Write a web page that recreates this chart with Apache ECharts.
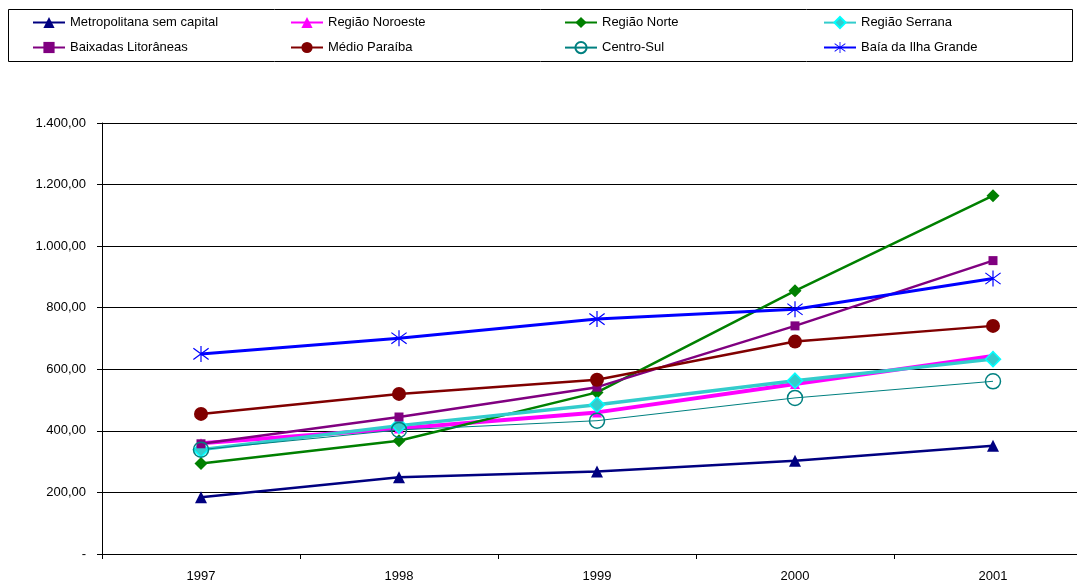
<!DOCTYPE html>
<html>
<head>
<meta charset="utf-8">
<script src="https://cdn.jsdelivr.net/npm/echarts@6/dist/echarts.min.js"></script>
<style>html,body{margin:0;padding:0;background:#fff}#c{width:1077px;height:583px}</style>
</head>
<body>
<div id="c"></div>
<script>
const years = ['1997','1998','1999','2000','2001'];
const yTicks = [0,200,400,600,800,1000,1200,1400];
const metropolitana = [184, 249, 268, 303, 352];
const noroeste = [360, 408, 460, 552, 643];
const norte = [294, 368, 525, 855, 1164];
const serrana = [339, 417, 485, 563, 633];
const baixadas = [358, 445, 542, 741, 953];
const medio = [455, 520, 566, 690, 741];
const centroSul = [339, 403, 433, 507, 561];
const baia = [650, 701, 763, 795, 895];

const star = 'path://M9.3 0 L10.7 0 L10.7 20 L9.3 20 Z M1.43 2.45 L19.43 16.45 L18.57 17.55 L0.57 3.55 Z M0.57 16.45 L18.57 2.45 L19.43 3.55 L1.43 17.55 Z';

const seriesDefs = [
  {name:'Metropolitana sem capital', data:metropolitana, color:'#000080', width:2.5, symbol:'triangle', size:12},
  {name:'Região Noroeste', data:noroeste, color:'#FF00FF', width:4, symbol:'triangle', size:10},
  {name:'Região Norte', data:norte, color:'#008000', width:2.5, symbol:'diamond', size:13},
  {name:'Região Serrana', data:serrana, color:'#33CCCC', width:3.5, symbol:'diamond', size:15, border:'#00FFFF'},
  {name:'Baixadas Litorâneas', data:baixadas, color:'#800080', width:2.5, symbol:'rect', size:9},
  {name:'Médio Paraíba', data:medio, color:'#800000', width:2.5, symbol:'circle', size:14},
  {name:'Centro-Sul', data:centroSul, color:'#008080', width:1, symbol:'circle', size:15, hollow:true},
  {name:'Baía da Ilha Grande', data:baia, color:'#0000FF', width:3, symbol:star, size:16}
];

function fmt(v){
  if (v === 0) return '-';
  const s = String(Math.round(v));
  const withDots = s.replace(/\B(?=(\d{3})+(?!\d))/g, '.');
  return withDots + ',00';
}

const legendPos = [[32,16],[290,16],[564,16],[823,16],[32,41],[290,41],[564,41],[823,41]];
const legends = seriesDefs.map((s,i)=>({
  data:[s.name], left:legendPos[i][0], top:legendPos[i][1], padding:0,
  itemWidth:32, itemHeight:14, selectedMode:false,
  textStyle:{fontFamily:'Liberation Sans', fontSize:13, color:'#000', padding:[0,0,0,0]}
}));

const chart = echarts.init(document.getElementById('c'), null, {renderer:'canvas'});
chart.setOption({
  animation:false,
  backgroundColor:'#fff',
  legend: legends,
  graphic:[{type:'rect', shape:{x:8.5,y:9.5,width:1064,height:52}, style:{fill:'none', stroke:'#000', lineWidth:1}, silent:true}],
  grid:{left:102, top:123, width:990, height:431, outerBoundsMode:'none', containLabel:false},
  xAxis:{
    type:'category', data:years, boundaryGap:true,
    axisLine:{lineStyle:{color:'#000', width:1}},
    axisTick:{show:true, length:5, lineStyle:{color:'#000'}},
    axisLabel:{color:'#000', fontFamily:'Liberation Sans', fontSize:13, margin:16}
  },
  yAxis:{
    type:'value', min:0, max:1400, interval:200,
    axisLine:{show:true, lineStyle:{color:'#000', width:1}},
    axisTick:{show:true, length:5, lineStyle:{color:'#000'}},
    axisLabel:{color:'#000', fontFamily:'Liberation Sans', fontSize:13, margin:16, formatter:fmt},
    splitLine:{show:true, lineStyle:{color:'#000', width:1}}
  },
  series: seriesDefs.map(s=>({
    name:s.name, type:'line', data:s.data,
    symbol:s.symbol, symbolSize:s.size, showAllSymbol:true,
    lineStyle:{color:s.color, width:s.width},
    itemStyle:{color: s.hollow ? 'rgba(255,255,255,0)' : s.color, borderColor: s.border || s.color, borderWidth: s.hollow ? 1.5 : (s.border?1.5:0)},
    emphasis:{disabled:true}
  }))
});
</script>
</body>
</html>
